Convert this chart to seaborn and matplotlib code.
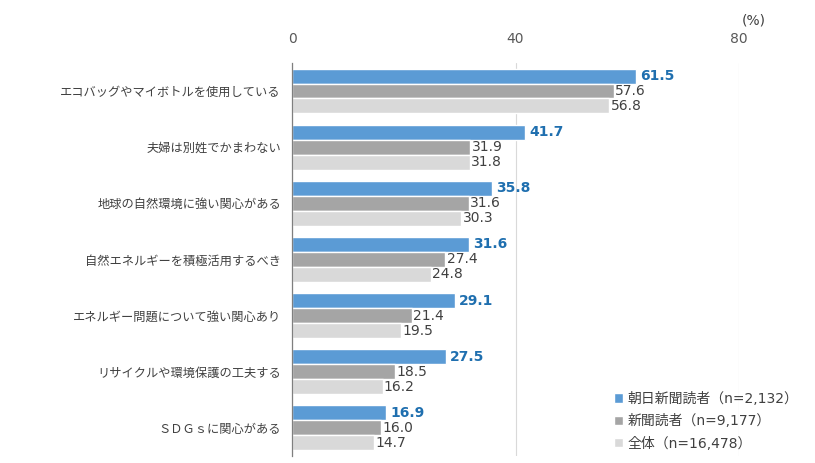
import numpy as np
import pandas as pd
import matplotlib
matplotlib.use("Agg")
import matplotlib.pyplot as plt
import seaborn as sns

categories = ["エコバッグやマイボトルを使用している", "夫婦は別姓でかまわない", "地球の自然環境に強い関心がある",
              "自然エネルギーを積極活用するべき", "エネルギー問題について強い関心あり",
              "リサイクルや環境保護の工夫する", "ＳＤＧｓに関心がある"]
series = ["朝日新聞読者（n=2,132）", "新聞読者（n=9,177）", "全体（n=16,478）"]
asahi = [61.5, 41.7, 35.8, 31.6, 29.1, 27.5, 16.9]
readers = [57.6, 31.9, 31.6, 27.4, 21.4, 18.5, 16.0]
overall = [56.8, 31.8, 30.3, 24.8, 19.5, 16.2, 14.7]
colors = ["#5B9BD5", "#A5A5A5", "#D9D9D9"]

sns.set_theme(style="white")
plt.rcParams['font.family'] = ['DejaVu Sans', 'Noto Sans CJK JP']

rows = []
for name, vals in zip(series, [asahi, readers, overall]):
    for c, v in zip(categories, vals):
        rows.append({"項目": c, "系列": name, "値": v})
df = pd.DataFrame(rows)

fig = plt.figure(figsize=(8.15, 4.63), dpi=100)
ax = fig.add_axes([0.3583, 0.0151, 0.5485, 0.849])
sns.barplot(data=df, y="項目", x="値", hue="系列", orient="h", palette=colors,
            width=0.8, saturation=1, ax=ax)

ax.set_xlim(0, 80)
ax.set_ylim(6.5, -0.5)
ax.set_xticks([0, 40, 80])
ax.xaxis.tick_top()
ax.tick_params(axis="x", length=0, pad=12, labelsize=10, labelcolor="#595959")
ax.tick_params(axis="y", length=0, pad=8, labelsize=8.8, labelcolor="#404040")
ax.set_xlabel("")
ax.set_ylabel("")
for s in ["top", "right", "bottom"]:
    ax.spines[s].set_visible(False)
ax.spines["left"].set_color("#7F7F7F")
ax.spines["left"].set_linewidth(0.9)
ax.xaxis.grid(True, color="#D9D9D9", linewidth=0.8)
ax.set_axisbelow(True)

for i, cont in enumerate(ax.containers):
    if i == 0:
        ax.bar_label(cont, fmt="%.1f", padding=3, fontsize=10, color="#1F6FAF", fontweight="bold")
    else:
        ax.bar_label(cont, fmt="%.1f", padding=1, fontsize=10, color="#404040")

fig.text(0.91, 0.955, "(%)", fontsize=10, color="#404040", ha="left", va="center")

handles, labels = ax.get_legend_handles_labels()
ax.legend(handles, labels, loc="lower right", bbox_to_anchor=(0.995, 0.0),
          bbox_transform=fig.transFigure, frameon=False, fontsize=10,
          handlelength=0.65, handleheight=0.65, handletextpad=0.3, labelspacing=0.6,
          labelcolor="#404040")

fig.savefig("out.png", dpi=100)
